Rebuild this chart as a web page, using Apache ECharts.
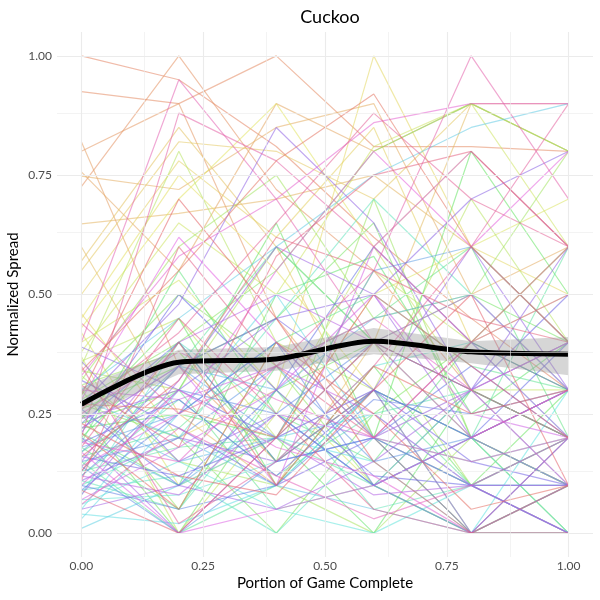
<!DOCTYPE html>
<html>
<head>
<meta charset="utf-8">
<script src="https://cdn.jsdelivr.net/npm/echarts@6/dist/echarts.min.js"></script>
<style>
  html, body { margin: 0; padding: 0; background: #fff; }
  #chart { width: 600px; height: 600px; }
</style>
</head>
<body>
<div id="chart"></div>
<script>
// portion of game complete (x) for every game line
var portions = [0, 0.2, 0.4, 0.6, 0.8, 1.0];

// one row per game: normalized spread at each portion
var spreadByGame = [
  [1.00, 0.95, 0.81, 0.62, 0.45, 0.30],
  [0.925, 0.90, 1.00, 0.81, 0.81, 0.80],
  [0.726, 1.00, 0.72, 0.55, 0.30, 0.20],
  [0.80, 0.90, 0.45, 0.20, 0.10, 0.00],
  [0.82, 0.35, 0.15, 0.30, 0.20, 0.10],
  [0.757, 0.55, 0.90, 0.80, 0.90, 0.90],
  [0.748, 0.72, 0.85, 0.90, 0.50, 0.60],
  [0.648, 0.67, 0.70, 0.75, 0.60, 0.40],
  [0.60, 0.25, 0.10, 0.40, 0.90, 0.80],
  [0.57, 0.85, 0.60, 0.20, 0.00, 0.10],
  [0.55, 0.82, 0.80, 0.70, 0.90, 0.80],
  [0.50, 0.78, 0.62, 0.85, 0.40, 0.30],
  [0.46, 0.20, 0.30, 1.00, 0.60, 0.50],
  [0.45, 0.75, 0.55, 0.30, 0.20, 0.00],
  [0.43, 0.70, 0.90, 0.60, 0.80, 0.60],
  [0.42, 0.10, 0.20, 0.50, 0.60, 0.70],
  [0.40, 0.53, 0.30, 0.10, 0.00, 0.20],
  [0.38, 0.65, 0.50, 0.81, 0.90, 0.60],
  [0.37, 0.00, 0.25, 0.60, 0.30, 0.30],
  [0.36, 0.45, 0.20, 0.55, 0.40, 0.50],
  [0.35, 0.80, 0.40, 0.30, 0.70, 0.40],
  [0.34, 0.30, 0.60, 0.40, 0.10, 0.20],
  [0.33, 0.15, 0.10, 0.00, 0.20, 0.10],
  [0.32, 0.60, 0.75, 0.45, 0.50, 0.80],
  [0.31, 0.38, 0.15, 0.70, 0.20, 0.30],
  [0.30, 0.05, 0.40, 0.20, 0.00, 0.00],
  [0.29, 0.50, 0.35, 0.10, 0.30, 0.20],
  [0.28, 0.40, 0.55, 0.80, 0.90, 0.80],
  [0.27, 0.20, 0.00, 0.25, 0.40, 0.60],
  [0.26, 0.35, 0.45, 0.65, 0.20, 0.10],
  [0.25, 0.00, 0.30, 0.40, 0.50, 0.40],
  [0.24, 0.45, 0.10, 0.35, 0.10, 0.30],
  [0.23, 0.30, 0.65, 0.20, 0.80, 0.50],
  [0.22, 0.25, 0.20, 0.00, 0.30, 0.20],
  [0.21, 0.10, 0.50, 0.58, 0.25, 0.40],
  [0.20, 0.40, 0.15, 0.30, 0.00, 0.10],
  [0.19, 0.55, 0.25, 0.15, 0.40, 0.30],
  [0.18, 0.05, 0.35, 0.45, 0.60, 0.20],
  [0.17, 0.30, 0.05, 0.10, 0.20, 0.00],
  [0.16, 0.22, 0.40, 0.50, 0.35, 0.30],
  [0.15, 0.00, 0.10, 0.30, 0.10, 0.20],
  [0.14, 0.35, 0.60, 0.40, 0.20, 0.60],
  [0.13, 0.18, 0.20, 0.10, 0.00, 0.00],
  [0.12, 0.28, 0.12, 0.25, 0.30, 0.40],
  [0.11, 0.05, 0.30, 0.05, 0.10, 0.10],
  [0.10, 0.20, 0.45, 0.70, 0.50, 0.30],
  [0.09, 0.12, 0.00, 0.20, 0.15, 0.20],
  [0.08, 0.40, 0.25, 0.10, 0.20, 0.00],
  [0.07, 0.08, 0.15, 0.35, 0.40, 0.20],
  [0.06, 0.15, 0.05, 0.00, 0.10, 0.10],
  [0.05, 0.30, 0.20, 0.15, 0.00, 0.30],
  [0.04, 0.02, 0.10, 0.30, 0.20, 0.10],
  [0.03, 0.25, 0.50, 0.20, 0.30, 0.20],
  [0.01, 0.10, 0.20, 0.25, 0.10, 0.00],
  [0.30, 0.45, 0.60, 0.75, 0.85, 0.90],
  [0.28, 0.20, 0.10, 0.05, 0.00, 0.00],
  [0.25, 0.15, 0.20, 0.30, 0.20, 0.30],
  [0.22, 0.35, 0.30, 0.45, 0.50, 0.50],
  [0.20, 0.10, 0.25, 0.10, 0.30, 0.10],
  [0.18, 0.25, 0.40, 0.20, 0.10, 0.20],
  [0.17, 0.35, 0.20, 0.55, 0.60, 0.40],
  [0.15, 0.20, 0.35, 0.15, 0.20, 0.30],
  [0.14, 0.00, 0.15, 0.20, 0.10, 0.10],
  [0.12, 0.30, 0.25, 0.40, 0.30, 0.20],
  [0.10, 0.05, 0.10, 0.28, 0.25, 0.30],
  [0.09, 0.25, 0.40, 0.10, 0.00, 0.10],
  [0.23, 0.40, 0.15, 0.20, 0.35, 0.20],
  [0.26, 0.10, 0.30, 0.60, 0.40, 0.30],
  [0.19, 0.28, 0.12, 0.30, 0.20, 0.40],
  [0.21, 0.50, 0.30, 0.12, 0.10, 0.00],
  [0.16, 0.12, 0.20, 0.40, 0.30, 0.50],
  [0.13, 0.35, 0.45, 0.30, 0.15, 0.10],
  [0.32, 0.22, 0.10, 0.20, 0.00, 0.20],
  [0.36, 0.15, 0.25, 0.10, 0.20, 0.30],
  [0.39, 0.30, 0.45, 0.50, 0.70, 0.80],
  [0.27, 0.48, 0.85, 0.65, 0.30, 0.60],
  [0.11, 0.20, 0.15, 0.30, 0.60, 0.30],
  [0.08, 0.32, 0.60, 0.50, 0.20, 0.10],
  [0.05, 0.10, 0.05, 0.15, 0.30, 0.40],
  [0.20, 0.00, 0.20, 0.30, 0.00, 0.20],
  [0.24, 0.30, 0.20, 0.08, 0.10, 0.00],
  [0.15, 0.40, 0.50, 0.40, 0.50, 0.30],
  [0.12, 0.08, 0.25, 0.20, 0.40, 0.20],
  [0.30, 0.28, 0.35, 0.25, 0.10, 0.10],
  [0.07, 0.18, 0.30, 0.50, 0.25, 0.20],
  [0.22, 0.35, 0.10, 0.60, 0.80, 0.60],
  [0.17, 0.00, 0.05, 0.10, 0.20, 0.30],
  [0.28, 0.62, 0.40, 0.20, 0.30, 0.40],
  [0.14, 0.25, 0.55, 0.80, 0.60, 0.80],
  [0.10, 0.30, 0.18, 0.12, 0.00, 0.00],
  [0.33, 0.58, 0.70, 0.86, 0.90, 0.90],
  [0.19, 0.15, 0.35, 0.45, 0.30, 0.10],
  [0.25, 0.38, 0.28, 0.20, 0.15, 0.20],
  [0.06, 0.22, 0.12, 0.03, 0.10, 0.20],
  [0.40, 0.95, 0.70, 0.40, 0.20, 0.30],
  [0.44, 0.25, 0.35, 0.55, 1.00, 0.70],
  [0.20, 0.88, 0.78, 0.60, 0.40, 0.50],
  [0.35, 0.02, 0.15, 0.35, 0.60, 0.90],
  [0.26, 0.42, 0.65, 0.88, 0.70, 0.60],
  [0.18, 0.45, 0.25, 0.05, 0.00, 0.10],
  [0.11, 0.60, 0.35, 0.20, 0.40, 0.60],
  [0.31, 0.18, 0.58, 0.75, 0.80, 0.60],
  [0.16, 0.32, 0.62, 0.55, 0.45, 0.40],
  [0.09, 0.00, 0.20, 0.50, 0.35, 0.20],
  [0.23, 0.12, 0.08, 0.30, 0.50, 0.10],
  [0.29, 0.70, 0.45, 0.15, 0.00, 0.00],
  [0.13, 0.40, 0.10, 0.35, 0.25, 0.30],
  [0.21, 0.05, 0.40, 0.25, 0.05, 0.10],
  [0.34, 0.55, 0.78, 0.92, 0.60, 0.40],
  [0.27, 0.26, 0.20, 0.40, 0.30, 0.20]
];

// smoothed trend and its confidence band
var trendMean = [0.270, 0.358, 0.365, 0.402, 0.380, 0.375];
var trendLow = [0.240, 0.333, 0.340, 0.375, 0.356, 0.331];
var trendHigh = [0.305, 0.384, 0.390, 0.430, 0.402, 0.411];

var tickValues = [0, 0.25, 0.5, 0.75, 1];
var minorValues = [0.125, 0.375, 0.625, 0.875];

var fontName = 'Lato, "DejaVu Sans", sans-serif';

function pairs(ys) {
  return portions.map(function(x, i) { return [x, ys[i]]; });
}

function gridLines(values, axisKey, width) {
  return values.map(function(v) {
    var d = {};
    d[axisKey] = v;
    d.lineStyle = { color: '#ebebeb', width: width, type: 'solid' };
    return d;
  });
}

var series = [];

// panel grid lines (drawn under everything)
series.push({
  type: 'line',
  data: [],
  silent: true,
  z: 0,
  markLine: {
    silent: true,
    symbol: 'none',
    label: { show: false },
    animation: false,
    data: []
      .concat(gridLines(minorValues, 'xAxis', 0.6))
      .concat(gridLines(minorValues, 'yAxis', 0.6))
      .concat(gridLines(tickValues, 'xAxis', 1.1))
      .concat(gridLines(tickValues, 'yAxis', 1.1))
  }
});

spreadByGame.forEach(function(row, i) {
  var hue = (15 + i * 360 / spreadByGame.length) % 360;
  series.push({
    type: 'line',
    data: pairs(row),
    symbol: 'none',
    silent: true,
    z: 2,
    lineStyle: { width: 1.2, color: 'hsla(' + hue + ', 70%, 64%, 0.55)' }
  });
});

// confidence band: polygon from the upper edge and back along the lower edge
var bandData = portions.map(function(x, i) { return [x, trendLow[i], trendHigh[i]]; });
series.push({
  type: 'custom',
  data: bandData,
  silent: true,
  z: 3,
  renderItem: function(params, api) {
    if (params.dataIndex !== 0) {
      return null;
    }
    var upper = bandData.map(function(d) { return api.coord([d[0], d[2]]); });
    var lower = bandData.map(function(d) { return api.coord([d[0], d[1]]); }).reverse();
    return {
      type: 'polygon',
      shape: { points: upper.concat(lower) },
      style: { fill: 'rgba(153,153,153,0.4)' }
    };
  }
});
series.push({
  type: 'line',
  data: pairs(trendMean),
  symbol: 'none',
  smooth: 0.3,
  silent: true,
  z: 4,
  lineStyle: { width: 5, color: '#000000' }
});

var chart = echarts.init(document.getElementById('chart'));
chart.setOption({
  animation: false,
  backgroundColor: '#ffffff',
  textStyle: { fontFamily: fontName },
  title: {
    text: 'Cuckoo',
    left: 325,
    textAlign: 'center',
    top: 3,
    textStyle: { fontFamily: fontName, fontSize: 18, fontWeight: 'normal', color: '#000' }
  },
  grid: { left: 57, right: 7, top: 32, bottom: 43, containLabel: false, outerBoundsMode: 'none' },
  xAxis: {
    type: 'value',
    min: -0.05,
    max: 1.05,
    name: 'Portion of Game Complete',
    nameLocation: 'middle',
    nameGap: 19,
    nameMoveOverlap: false,
    nameTextStyle: { fontFamily: fontName, fontSize: 15, color: '#000', verticalAlign: 'top' },
    axisLine: { show: false },
    axisTick: { show: false },
    splitLine: { show: false },
    axisLabel: {
      customValues: tickValues,
      margin: 3,
      color: '#4d4d4d',
      fontSize: 12,
      fontFamily: fontName,
      formatter: function(v) { return v.toFixed(2); }
    }
  },
  yAxis: {
    type: 'value',
    min: -0.05,
    max: 1.05,
    name: 'Normalized Spread',
    nameLocation: 'middle',
    nameGap: 36,
    nameMoveOverlap: false,
    nameTextStyle: { fontFamily: fontName, fontSize: 15, color: '#000' },
    axisLine: { show: false },
    axisTick: { show: false },
    splitLine: { show: false },
    axisLabel: {
      customValues: tickValues,
      margin: 5,
      color: '#4d4d4d',
      fontSize: 12,
      fontFamily: fontName,
      formatter: function(v) { return v.toFixed(2); }
    }
  },
  series: series
});
</script>
</body>
</html>
